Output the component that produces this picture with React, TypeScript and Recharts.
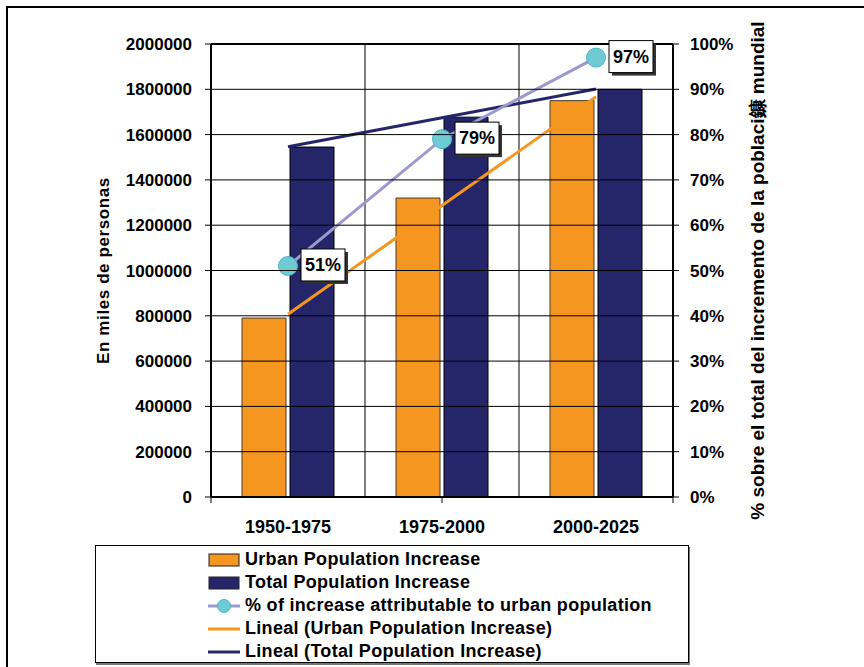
import React from "react"
import {
  ComposedChart,
  Bar,
  Line,
  XAxis,
  YAxis,
  CartesianGrid,
  ReferenceLine,
  LabelList,
} from "recharts"

const categories = ["1950-1975", "1975-2000", "2000-2025"]
const urbanIncrease = [790000, 1320000, 1750000]
const totalIncrease = [1545000, 1677000, 1800000]
const urbanShare = [51, 79, 97]
// Excel "Lineal" trend lines at each category
const urbanTrend = [806667, 1286667, 1766667]
const totalTrend = [1546500, 1674000, 1801500]

const leftTicks = [0, 200000, 400000, 600000, 800000, 1000000, 1200000, 1400000, 1600000, 1800000, 2000000]
const rightTicks = [0, 10, 20, 30, 40, 50, 60, 70, 80, 90, 100]
const boundaryTicks = [0, 1, 2, 3]

const ORANGE = "#F4961F"
const NAVY = "#25256A"
const LAVENDER = "#9C99CF"
const CYAN = "#6ECBD4"
const FONT = "'Liberation Sans', Arial, sans-serif"
const LEFT_MAX = 2000000

const CHART_W = 864
const CHART_H = 667
const MARGIN = { top: 44, right: 91, left: 100, bottom: 122 }
const LEFT_AXIS_W = 111
const RIGHT_AXIS_W = 100
const LEFT_TICK_SIZE = 6
const LEFT_TICK_MARGIN = 13
const PLOT_W = CHART_W - MARGIN.left - MARGIN.right - LEFT_AXIS_W - RIGHT_AXIS_W

const data = categories.map((name, i) => ({
  name,
  urban: urbanIncrease[i],
  total: totalIncrease[i],
  share: urbanShare[i],
  urbanTrend: urbanTrend[i],
  totalTrend: totalTrend[i],
}))

const tickStyle = { fill: "#000", fontSize: 17, fontWeight: 700, fontFamily: FONT }

const EmptyTick = () => <g />

// left tick: the value label plus the horizontal grid line running across the plot
function LeftTick(props: any) {
  const { x, y, payload } = props
  const gx = x + LEFT_TICK_SIZE + LEFT_TICK_MARGIN
  return (
    <g>
      <line x1={gx} x2={gx + PLOT_W} y1={y} y2={y} stroke="#000" strokeWidth={1} />
      <text x={x} y={y} dy="0.355em" textAnchor="end" {...tickStyle}>
        {payload.value}
      </text>
    </g>
  )
}

function ShareLabel(props: any) {
  const { x, y, value } = props
  const bx = x + 13
  const by = y - 17
  return (
    <g>
      <rect x={bx + 3} y={by + 3} width={44} height={32} fill="#333" />
      <rect x={bx} y={by} width={44} height={32} fill="#fff" stroke="#000" strokeWidth={1} />
      <text
        x={bx + 22}
        y={by + 16}
        textAnchor="middle"
        dominantBaseline="central"
        fontSize={18}
        fontWeight={700}
        fontFamily={FONT}
        fill="#000"
      >
        {value}%
      </text>
    </g>
  )
}

function LeftTitle(props: any) {
  const { viewBox } = props
  const cx = viewBox.x + 3
  const cy = viewBox.y + viewBox.height / 2
  return (
    <text
      x={cx}
      y={cy}
      transform={`rotate(-90, ${cx}, ${cy})`}
      textAnchor="middle"
      dominantBaseline="central"
      fontSize={17}
      fontWeight={700}
      fontFamily={FONT}
      letterSpacing={0.6}
      fill="#000"
    >
      En miles de personas
    </text>
  )
}

function RightTitle(props: any) {
  const { viewBox } = props
  const cx = viewBox.x + 84
  const cy = viewBox.y + viewBox.height / 2
  return (
    <text
      x={cx}
      y={cy}
      transform={`rotate(-90, ${cx}, ${cy})`}
      textAnchor="middle"
      dominantBaseline="central"
      fontSize={19}
      fontWeight={700}
      fontFamily={FONT}
      fill="#000"
    >
      % sobre el total del incremento de la poblaci鏮 mundial
    </text>
  )
}

const legendItems = [
  { label: "Urban Population Increase", kind: "bar", color: ORANGE },
  { label: "Total Population Increase", kind: "bar", color: NAVY },
  { label: "% of increase attributable to urban population", kind: "dot", color: LAVENDER },
  { label: "Lineal (Urban Population Increase)", kind: "line", color: ORANGE },
  { label: "Lineal (Total Population Increase)", kind: "line", color: NAVY },
]

function LegendIcon({ kind, color }: { kind: string; color: string }) {
  return (
    <svg width={32} height={16} style={{ marginRight: 5 }}>
      {kind === "bar" && (
        <rect x={1} y={2} width={30} height={12} fill={color} stroke="#222" strokeWidth={1} />
      )}
      {kind === "line" && <line x1={0} x2={32} y1={8} y2={8} stroke={color} strokeWidth={3} />}
      {kind === "dot" && (
        <g>
          <line x1={0} x2={32} y1={8} y2={8} stroke={color} strokeWidth={3} />
          <circle cx={16} cy={8} r={6.5} fill={CYAN} stroke="#4FB6C0" strokeWidth={1} />
        </g>
      )}
    </svg>
  )
}

// vertical grid lines sit on the category boundaries
const verticalGen = ({ offset }: any) =>
  boundaryTicks.map((b) => offset.left + (offset.width * b) / categories.length)

export default function App() {
  return (
    <div style={{ position: "absolute", left: 0, top: 0, width: CHART_W, height: CHART_H, background: "#fff" }}>
      <div
        style={{
          position: "absolute",
          left: 6,
          top: 6,
          right: 0,
          bottom: 0,
          borderTop: "2px solid #000",
          borderLeft: "2px solid #000",
        }}
      />
      <div style={{ position: "absolute", left: 0, top: 0 }}>
        <ComposedChart width={CHART_W} height={CHART_H} data={data} margin={MARGIN}>
          <CartesianGrid
            xAxisId="a"
            yAxisId="yb"
            stroke="#000"
            strokeWidth={1}
            horizontal={false}
            verticalCoordinatesGenerator={verticalGen}
          />
          <XAxis
            xAxisId="a"
            type="number"
            domain={[0, 3]}
            ticks={boundaryTicks}
            tick={EmptyTick}
            tickSize={6}
            tickLine={{ stroke: "#000" }}
            axisLine={{ stroke: "#000", strokeWidth: 2 }}
            height={8}
          />
          <XAxis
            xAxisId="b"
            dataKey="name"
            axisLine={false}
            tickLine={false}
            tickSize={0}
            tickMargin={15}
            tick={{ ...tickStyle, fontSize: 18 }}
            interval={0}
            height={40}
          />
          <YAxis
            yAxisId="yb"
            domain={[0, LEFT_MAX]}
            ticks={leftTicks}
            interval={0}
            width={LEFT_AXIS_W}
            tick={<LeftTick />}
            tickSize={LEFT_TICK_SIZE}
            tickMargin={LEFT_TICK_MARGIN}
            tickLine={{ stroke: "#000" }}
            axisLine={{ stroke: "#000", strokeWidth: 2 }}
            label={<LeftTitle />}
          />
          <YAxis
            yAxisId="yc"
            orientation="right"
            domain={[0, 100]}
            ticks={rightTicks}
            interval={0}
            width={RIGHT_AXIS_W}
            tickFormatter={(v: number) => `${v}%`}
            tick={tickStyle}
            tickSize={6}
            tickMargin={11}
            tickLine={{ stroke: "#000" }}
            axisLine={{ stroke: "#000", strokeWidth: 2 }}
            label={<RightTitle />}
          />
          <ReferenceLine xAxisId="a" yAxisId="yb" y={LEFT_MAX} stroke="#000" strokeWidth={2} />
          <Bar
            xAxisId="b"
            yAxisId="yb"
            dataKey="urban"
            fill={ORANGE}
            stroke="#4a3a2a"
            strokeWidth={1}
            barSize={44}
            isAnimationActive={false}
          />
          <Bar
            xAxisId="b"
            yAxisId="yb"
            dataKey="total"
            fill={NAVY}
            stroke="#000"
            strokeWidth={1}
            barSize={44}
            isAnimationActive={false}
          />
          <Line
            xAxisId="b"
            yAxisId="yb"
            dataKey="urbanTrend"
            stroke={ORANGE}
            strokeWidth={3}
            dot={false}
            isAnimationActive={false}
          />
          <Line
            xAxisId="b"
            yAxisId="yb"
            dataKey="totalTrend"
            stroke={NAVY}
            strokeWidth={3}
            dot={false}
            isAnimationActive={false}
          />
          <Line
            xAxisId="b"
            yAxisId="yc"
            dataKey="share"
            stroke={LAVENDER}
            strokeWidth={3}
            dot={{ r: 9.5, fill: CYAN, stroke: "#4FB6C0", strokeWidth: 1 }}
            isAnimationActive={false}
          >
            <LabelList dataKey="share" content={<ShareLabel />} />
          </Line>
        </ComposedChart>
      </div>
      <div
        style={{
          position: "absolute",
          left: 95,
          top: 545,
          width: 594,
          height: 118,
          border: "1px solid #000",
          boxShadow: "1px 2px 0 #777",
          background: "#fff",
          paddingTop: 2,
          boxSizing: "border-box",
        }}
      >
        {legendItems.map((item) => (
          <div
            key={item.label}
            style={{
              display: "flex",
              alignItems: "center",
              height: 23,
              paddingLeft: 112,
              fontFamily: FONT,
              fontWeight: 700,
              fontSize: 18,
              letterSpacing: 0.3,
              color: "#000",
              whiteSpace: "nowrap",
            }}
          >
            <LegendIcon kind={item.kind} color={item.color} />
            {item.label}
          </div>
        ))}
      </div>
    </div>
  )
}
